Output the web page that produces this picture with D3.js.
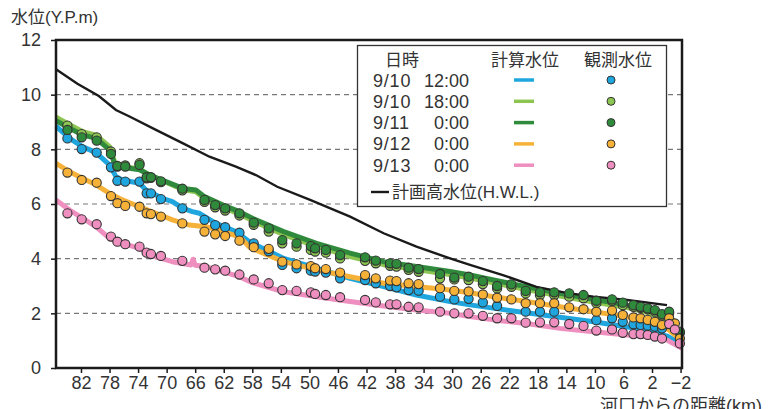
<!DOCTYPE html>
<html>
<head>
<meta charset="utf-8">
<script src="https://cdn.jsdelivr.net/npm/d3@7"></script>
<style>
  body { margin: 0; background: #fff; }
  #chart text { fill: #333; }
</style>
</head>
<body>
<div id="chart"></div>
<script>
// x ticks (km from river mouth)
const xTicks = [82, 78, 74, 70, 66, 62, 58, 54, 50, 46, 42, 38, 34, 30, 26, 22, 18, 14, 10, 6, 2, -2];
const yTicks = [0, 2, 4, 6, 8, 10, 12];

const seriesNames = ['9/10 12:00', '9/10 18:00', '9/11 0:00', '9/12 0:00', '9/13 0:00'];
const seriesDates = ['9/10', '9/10', '9/11', '9/12', '9/13'];
const seriesTimes = ['12:00', '18:00', '0:00', '0:00', '0:00'];
const seriesColors = ['#1fa6de', '#8cc552', '#2f8a3b', '#f6b238', '#ef8fbf'];

// 計画高水位 (H.W.L.)
const hwl = [[85.5, 10.93], [82.5, 10.4], [79.5, 9.95], [77.1, 9.44], [75.2, 9.2], [71.5, 8.71], [67.7, 8.22],
  [64, 7.73], [60.3, 7.37], [57.5, 7.06], [54.5, 6.63], [49.9, 6.15], [44.3, 5.54], [39.6, 4.93], [35, 4.44],
  [30.3, 4.01], [27.5, 3.77], [22.9, 3.4], [18.2, 2.97], [14, 2.75], [10.2, 2.61], [5.5, 2.49], [-0.1, 2.3]];

// 計算水位
const calcBlue = [[85.5, 8.85], [83.6, 8.4], [81.8, 8.1], [79.9, 7.88], [78.0, 7.43], [77.1, 7.0], [76.2, 6.88],
  [73.8, 6.76], [72.9, 6.51], [70.6, 6.21], [69.2, 6.09], [67.7, 5.84], [66.4, 5.72], [65.4, 5.66], [63.1, 5.29],
  [60.3, 4.99], [58.4, 4.62], [57.5, 4.5], [53.6, 4.01], [49.0, 3.65], [44.3, 3.28], [39.6, 2.98], [35.0, 2.67],
  [30.3, 2.43], [27.5, 2.31], [19.6, 2.02], [10.2, 1.69], [2.7, 1.39], [-0.1, 1.17], [-2.2, 0.85]];
const calcLightGreen = [[85.5, 9.18], [83.6, 8.9], [81.8, 8.65], [79.9, 8.52], [78.0, 8.1], [77.3, 7.55], [76.9, 7.4],
  [73.8, 7.28], [72.4, 7.06], [70.1, 6.8], [67.7, 6.52], [65.9, 6.45], [64.7, 6.2], [62.1, 5.88], [59.8, 5.63],
  [57.5, 5.33], [53.6, 4.88], [49.0, 4.45], [44.3, 4.08], [39.6, 3.78], [35.0, 3.6], [30.3, 3.42], [27.5, 3.29],
  [24.2, 3.12], [19.6, 2.87], [14.9, 2.63], [10.2, 2.41], [5.5, 2.21], [2.7, 2.04], [-0.1, 1.76], [-1.0, 1.4], [-2.2, 1.28]];
const calcDarkGreen = [[85.5, 9.05], [83.6, 8.77], [81.8, 8.53], [79.9, 8.4], [78.0, 7.98], [77.3, 7.49], [76.9, 7.37],
  [73.8, 7.25], [72.4, 7.06], [70.1, 6.82], [67.7, 6.57], [65.9, 6.51], [64.7, 6.27], [62.1, 5.96], [59.8, 5.72],
  [57.5, 5.42], [53.6, 4.99], [49.0, 4.56], [44.3, 4.2], [39.6, 3.89], [35.0, 3.71], [30.3, 3.53], [27.5, 3.4],
  [24.2, 3.22], [19.6, 2.97], [14.9, 2.73], [10.2, 2.51], [5.5, 2.3], [2.7, 2.12], [0.2, 1.94], [-1.0, 1.45], [-2.2, 1.33]];
const calcOrange = [[85.5, 7.49], [83.6, 7.18], [81.8, 6.94], [79.9, 6.7], [78.0, 6.39], [76.2, 6.15], [73.8, 5.9],
  [71.5, 5.66], [69.2, 5.42], [66.8, 5.23], [64.5, 5.17], [62.1, 4.99], [59.8, 4.8], [58.3, 4.4], [53.6, 3.89],
  [49.0, 3.59], [44.3, 3.34], [39.6, 3.1], [35.0, 2.98], [30.3, 2.85], [27.5, 2.75], [24.2, 2.61], [19.6, 2.43],
  [14.9, 2.24], [10.2, 2.06], [5.5, 1.88], [2.7, 1.69], [-0.1, 1.45], [-1.2, 1.21], [-2.2, 1.02]];
const calcPink = [[85.5, 6.15], [83.6, 5.78], [81.8, 5.48], [79.9, 5.17], [78.0, 4.74], [76.2, 4.56], [73.8, 4.38],
  [71.5, 4.07], [69.2, 3.89], [66.6, 3.77], [66.3, 3.98], [66.0, 3.76], [64.5, 3.71], [62.1, 3.52], [59.8, 3.34],
  [58.0, 3.12], [53.6, 2.79], [49.0, 2.61], [44.3, 2.43], [39.6, 2.27], [35.0, 2.12], [30.3, 2.0], [27.5, 1.88],
  [24.2, 1.76], [19.6, 1.63], [14.9, 1.45], [10.2, 1.33], [5.5, 1.21], [2.7, 1.15], [-0.1, 1.02], [-2.2, 0.72]];

// 観測水位 (stations in km, null = no observation)
const stations = [83.9, 81.9, 79.8, 77.8, 76.9, 75.8, 73.8, 72.8, 72.2, 70.8, 67.8, 64.7, 63.2, 61.8, 59.8, 57.8,
  55.7, 53.8, 51.8, 49.8, 49.2, 47.7, 45.7, 42.2, 40.7, 38.7, 37.8, 36.1, 34.7, 31.7, 29.7, 27.7, 25.7, 23.7, 21.7,
  19.7, 17.7, 15.7, 13.6, 11.6, 9.8, 7.6, 6.1, 4.6, 3.6, 2.6, 1.6, 0.6, -0.4, -1.2, -1.9];
const obsBlue = [8.40, 8.01, 7.88, 7.34, 6.85, 6.82, 6.82, 6.39, 6.39, 6.18, 5.84, 5.42, 5.23, 5.15, 4.95, 4.56,
  4.27, 3.77, 3.65, 3.56, 3.53, 3.49, 3.28, 3.22, 3.10, 3.00, 2.95, 2.85, 2.83, 2.61, 2.51, 2.53, 2.40, 2.27, null,
  2.06, 2.06, 2.06, null, null, 1.75, 1.82, 1.69, 1.60, 1.57, 1.55, 1.51, 1.45, null, null, null];
const obsLightGreen = [8.87, 8.56, 8.44, 7.92, 7.37, 7.41, 7.49, 6.94, 6.96, 6.80, 6.50, 6.08, 5.88, 5.76, 5.58, 5.24,
  4.99, 4.56, 4.44, 4.32, 4.26, 4.22, 4.01, 3.92, 3.83, 3.74, 3.71, 3.59, 3.52, 3.28, 3.24, 3.22, 3.07, 2.91, 2.97,
  2.73, 2.67, 2.67, 2.61, 2.55, 2.37, 2.46, 2.30, 2.24, 2.20, 2.15, 2.06, 1.92, 2.00, null, 1.28];
const obsDarkGreen = [8.71, 8.44, 8.32, 7.83, 7.39, 7.37, 7.43, 6.98, 6.98, 6.83, 6.56, 6.15, 5.96, 5.84, 5.66, 5.32,
  5.11, 4.68, 4.56, 4.46, 4.38, 4.32, 4.13, 4.05, 3.93, 3.83, 3.81, 3.67, 3.62, 3.44, 3.31, 3.34, 3.18, 3.00, 3.06,
  2.82, 2.77, 2.77, 2.73, 2.67, 2.46, 2.51, 2.39, 2.30, 2.24, 2.18, 2.12, 1.97, 2.06, null, 1.33];
const obsOrange = [7.15, 6.88, 6.78, 6.29, 6.03, 5.93, 5.90, 5.66, 5.63, 5.54, 5.29, 4.99, 4.89, 4.83, 4.66, 4.42,
  4.36, 3.89, 3.79, 3.73, 3.65, 3.62, 3.49, 3.40, 3.28, 3.20, 3.18, 3.10, 3.07, 2.92, 2.82, 2.80, 2.69, 2.57, 2.51,
  2.37, 2.37, 2.37, 2.22, 2.15, 2.06, 2.10, 1.94, 1.85, 1.82, 1.76, 1.69, 1.57, 1.82, 1.63, 1.08];
const obsPink = [5.66, 5.44, 5.26, 4.81, 4.62, 4.53, 4.44, 4.22, 4.17, 4.10, 3.92, 3.67, 3.61, 3.56, 3.42, 3.24,
  3.10, 2.85, 2.82, 2.77, 2.71, 2.67, 2.59, 2.49, 2.40, 2.33, 2.33, 2.24, 2.22, 2.06, 2.00, 2.00, 1.91, 1.82, 1.82,
  1.66, 1.67, 1.67, 1.61, 1.54, 1.37, 1.41, 1.29, 1.24, 1.24, 1.21, 1.15, 1.08, 1.61, 1.41, 0.90];

const calcSeries = [calcBlue, calcLightGreen, calcDarkGreen, calcOrange, calcPink];
const obsSeries = [obsBlue, obsLightGreen, obsDarkGreen, obsOrange, obsPink];

class WaterLevelChart {
  constructor(containerId) {
    this.containerId = containerId;
    this.width = 774;
    this.height = 409;
    this.plot = { left: 56, right: 682, top: 40, bottom: 368 };
    this.latin = '"Liberation Sans", Arial, "Noto Sans CJK JP", sans-serif';
  }

  init() {
    this.svg = d3.select(`#${this.containerId}`).append('svg')
      .attr('width', this.width)
      .attr('height', this.height);

    this.x = d3.scaleLinear().domain([85.5, -2.2]).range([this.plot.left, this.plot.right]);
    this.y = d3.scaleLinear().domain([0, 12]).range([this.plot.bottom, this.plot.top]);

    this.drawGrid();
    this.drawLines();
    this.drawPoints();
    this.drawFrame();
    this.drawAxes();
    this.drawLegend();
  }

  drawGrid() {
    this.svg.append('g')
      .selectAll('line')
      .data(yTicks.filter(d => d > 0 && d < 12))
      .join('line')
      .attr('x1', this.plot.left)
      .attr('x2', this.plot.right)
      .attr('y1', d => this.y(d))
      .attr('y2', d => this.y(d))
      .attr('stroke', '#777')
      .attr('stroke-width', 1.2)
      .attr('stroke-dasharray', '5,4');
  }

  drawLines() {
    const line = d3.line().x(d => this.x(d[0])).y(d => this.y(d[1]));
    const g = this.svg.append('g');
    calcSeries.forEach((s, i) => {
      g.append('path')
        .attr('d', line(s))
        .attr('fill', 'none')
        .attr('stroke', seriesColors[i])
        .attr('stroke-width', 5)
        .attr('stroke-linejoin', 'round');
    });
    g.append('path')
      .attr('d', line(hwl))
      .attr('fill', 'none')
      .attr('stroke', '#1a1a1a')
      .attr('stroke-width', 2.4);
  }

  drawPoints() {
    const g = this.svg.append('g');
    obsSeries.forEach((s, i) => {
      const pts = stations.map((km, j) => [km, s[j]]).filter(d => d[1] != null);
      g.selectAll(null)
        .data(pts)
        .join('circle')
        .attr('cx', d => this.x(d[0]))
        .attr('cy', d => this.y(d[1]))
        .attr('r', 4.6)
        .attr('fill', seriesColors[i])
        .attr('stroke', '#333')
        .attr('stroke-width', 1.1);
    });
  }

  drawFrame() {
    const p = this.plot;
    this.svg.append('rect')
      .attr('x', p.left)
      .attr('y', p.top)
      .attr('width', p.right - p.left)
      .attr('height', p.bottom - p.top)
      .attr('fill', 'none')
      .attr('stroke', '#1a1a1a')
      .attr('stroke-width', 2.5);
  }

  drawAxes() {
    const xAxis = this.svg.append('g')
      .attr('transform', `translate(0,${this.plot.bottom})`)
      .call(d3.axisBottom(this.x).tickValues(xTicks).tickSize(5).tickPadding(3)
        .tickFormat(d => d < 0 ? '−' + Math.abs(d) : d));
    xAxis.select('.domain').remove();
    xAxis.selectAll('line').attr('stroke', '#1a1a1a').attr('stroke-width', 1.5);
    xAxis.selectAll('text')
      .style('font-family', this.latin)
      .style('font-size', '18px')
      .attr('fill', '#333');

    const yAxis = this.svg.append('g')
      .attr('transform', `translate(${this.plot.left},0)`)
      .call(d3.axisLeft(this.y).tickValues(yTicks).tickSize(5).tickPadding(10));
    yAxis.select('.domain').remove();
    yAxis.selectAll('line').attr('stroke', '#1a1a1a').attr('stroke-width', 1.5);
    yAxis.selectAll('text')
      .style('font-family', this.latin)
      .style('font-size', '18px')
      .attr('fill', '#333');

    this.svg.append('text')
      .attr('x', 11)
      .attr('y', 23)
      .style('font-family', this.latin)
      .style('font-size', '17px')
      .text('水位(Y.P.m)');

    this.svg.append('text')
      .attr('x', 600)
      .attr('y', 412)
      .style('font-family', this.latin)
      .style('font-size', '18px')
      .text('河口からの距離(km)');
  }

  drawLegend() {
    const g = this.svg.append('g');
    g.append('rect')
      .attr('x', 357.5).attr('y', 45.5)
      .attr('width', 309).attr('height', 161)
      .attr('fill', '#fff')
      .attr('stroke', '#333')
      .attr('stroke-width', 1.3);

    const font = this.latin;
    const header = [['日時', 402], ['計算水位', 525], ['観測水位', 618]];
    g.selectAll('.hdr')
      .data(header)
      .join('text')
      .attr('x', d => d[1])
      .attr('y', 66)
      .attr('text-anchor', 'middle')
      .style('font-family', font)
      .style('font-size', '17px')
      .text(d => d[0]);

    const rowY = i => 80 + i * 21.3;
    seriesNames.forEach((name, i) => {
      g.append('text')
        .attr('x', 373).attr('y', rowY(i) + 6.5)
        .style('font-family', font).style('font-size', '18px')
        .style('letter-spacing', '0.8px')
        .text(seriesDates[i]);
      g.append('text')
        .attr('x', 469).attr('y', rowY(i) + 6.5)
        .attr('text-anchor', 'end')
        .style('font-family', font).style('font-size', '18px')
        .text(seriesTimes[i]);
      g.append('line')
        .attr('x1', 514).attr('x2', 534)
        .attr('y1', rowY(i)).attr('y2', rowY(i))
        .attr('stroke', seriesColors[i])
        .attr('stroke-width', 3.5);
      g.append('circle')
        .attr('cx', 611).attr('cy', rowY(i))
        .attr('r', 4)
        .attr('fill', seriesColors[i])
        .attr('stroke', '#333')
        .attr('stroke-width', 1);
    });

    g.append('line')
      .attr('x1', 371).attr('x2', 389)
      .attr('y1', 192).attr('y2', 192)
      .attr('stroke', '#1a1a1a')
      .attr('stroke-width', 2.4);
    g.append('text')
      .attr('x', 392).attr('y', 198)
      .style('font-family', font).style('font-size', '17px')
      .text('計画高水位(H.W.L.)');
  }
}

const chart = new WaterLevelChart('chart');
chart.init();
</script>
</body>
</html>
